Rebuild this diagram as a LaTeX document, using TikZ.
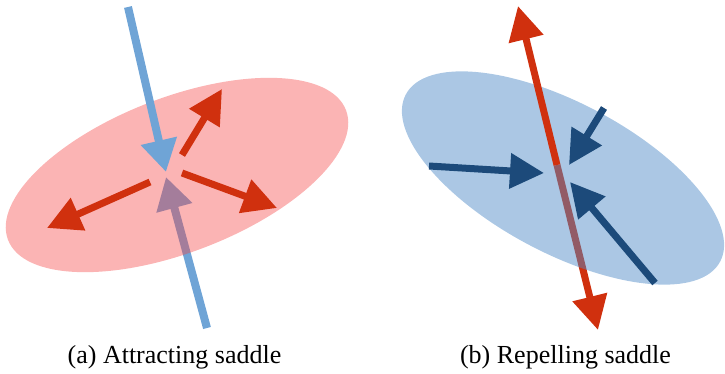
\documentclass[tikz,border=0pt]{standalone}
\usepackage{fontspec}
\setmainfont{Liberation Serif}
\usetikzlibrary{arrows.meta}
\definecolor{saddlered}{HTML}{D0300E}
\definecolor{saddlesky}{HTML}{6FA4D6}
\definecolor{saddlenavy}{HTML}{1C4A7A}
\definecolor{planepink}{HTML}{F54343}
\definecolor{planeblue}{HTML}{4F8BC7}

\begin{document}
\begin{tikzpicture}[x=0.5pt,y=0.5pt,
        flow/.style={line width=3.5pt,-{Triangle[length=17pt,width=17pt]}},
        axis/.style={line width=4pt,-{Triangle[length=16pt,width=17.5pt]}},
        plane/.style={fill opacity=0.4},
        caption/.style={font=\rmfamily\fontsize{13}{15}\selectfont,anchor=base}]
  \useasboundingbox (0,0) rectangle (725,-374);
  % (a) attracting saddle
  \coordinate (atop) at (128,-7);
  \coordinate (ainT) at (166,-172);
  \coordinate (abot) at (207,-328);
  \coordinate (ainB) at (166,-177);
  \draw[axis,saddlesky] (abot) -- (ainB);
  \fill[plane,planepink,rotate around={21:(177,-175)}] (177,-175) ellipse [x radius=181,y radius=77.5];
  \draw[axis,saddlesky] (atop) -- (ainT);
  \coordinate (aNE) at (182,-155);  \coordinate (aNEtip) at (222,-89);
  \coordinate (aE) at (182,-173);   \coordinate (aEtip) at (277,-208);
  \coordinate (aW) at (150,-182);   \coordinate (aWtip) at (47,-228);
  \draw[flow,saddlered] (aNE) -- (aNEtip);
  \draw[flow,saddlered] (aE) -- (aEtip);
  \draw[flow,saddlered] (aW) -- (aWtip);
  \node[caption] (capa) at (174.5,-364) {(a) Attracting saddle};

  % (b) repelling saddle
  \coordinate (btop) at (518,-6);
  \coordinate (bmid) at (557,-165);
  \coordinate (bbot) at (598,-330);
  \draw[flow,saddlered] (bmid) -- (bbot);
  \fill[plane,planeblue,fill opacity=0.48,rotate around={-28:(563,-178)}] (563,-178) ellipse [x radius=178,y radius=75];
  \draw[flow,saddlered] (bmid) -- (btop);
  \coordinate (bW) at (429,-166);   \coordinate (bWtip) at (544,-173);
  \coordinate (bNE) at (604,-108);  \coordinate (bNEtip) at (569,-165);
  \coordinate (bSE) at (655,-283);  \coordinate (bSEtip) at (570,-182);
  \draw[flow,saddlenavy] (bW) -- (bWtip);
  \draw[flow,saddlenavy] (bNE) -- (bNEtip);
  \draw[flow,saddlenavy] (bSE) -- (bSEtip);
  \node[caption] (capb) at (565.5,-364) {(b) Repelling saddle};
\end{tikzpicture}
\end{document}
